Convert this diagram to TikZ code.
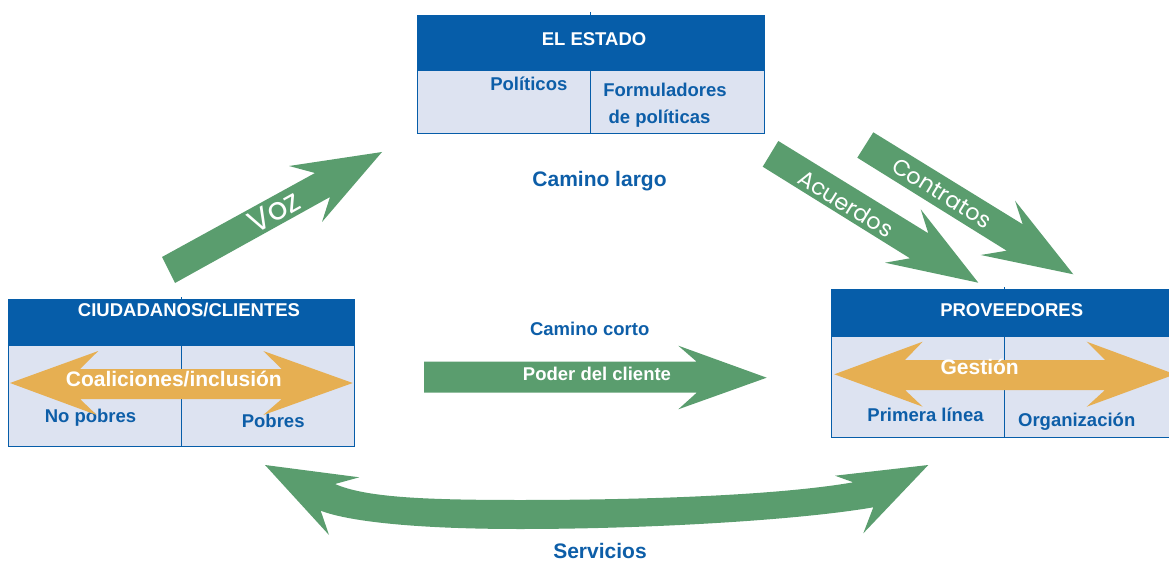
\documentclass[tikz,border=0pt]{standalone}
\usepackage{fontspec}
\setmainfont{Liberation Sans}
\newfontfamily\geo{Poppins}
\definecolor{hblue}{HTML}{065DA9}
\definecolor{tblue}{HTML}{0D5EA8}
\definecolor{cellbg}{HTML}{DDE3F1}
\definecolor{agreen}{HTML}{5A9D6E}
\definecolor{aorange}{HTML}{E6AF52}
\begin{document}
\begin{tikzpicture}[x=1pt,y=-1pt,
  hdr/.style={fill=hblue,draw=hblue,line width=0.8pt},
  cell/.style={fill=cellbg,draw=hblue,line width=0.8pt},
  divline/.style={draw=hblue,line width=0.8pt},
  ttl/.style={text=white,font=\fontsize{18.5}{20}\selectfont\bfseries,anchor=base,inner sep=0pt},
  lbl/.style={text=tblue,font=\fontsize{18.5}{20}\selectfont\bfseries,anchor=base,inner sep=0pt},
  biglbl/.style={text=tblue,font=\fontsize{21}{22}\selectfont\bfseries,anchor=base,inner sep=0pt},
  wlbl/.style={text=white,font=\fontsize{18.5}{20}\selectfont\bfseries,anchor=base,inner sep=0pt},
  owlbl/.style={text=white,font=\fontsize{21}{22}\selectfont\bfseries,anchor=base,inner sep=0pt},
  rlbl/.style={text=white,font=\geo\fontsize{22.5}{24}\selectfont,inner sep=0pt,anchor=center},
  garrow/.style={fill=agreen},
  oarrow/.style={fill=aorange}]
\useasboundingbox (0,0) rectangle (1169,561);
\clip (0,0) rectangle (1169,561);

% ---- EL ESTADO
\fill[cellbg] (417.3,70) rectangle (764.3,133.3);
\draw[divline] (590.7,12) -- (590.7,133.3);
\draw[hdr] (417.3,15) rectangle (764.3,70);
\draw[divline] (417.3,15) rectangle (764.3,133.3);
\node[ttl] (estado) at (594,46) {EL ESTADO};
\node[lbl] (politicos) at (528.8,91) {Políticos};
\node[lbl] (formul) at (665,96.5) {Formuladores};
\node[lbl] (depol) at (659.5,123.3) {de políticas};

% ---- CIUDADANOS
\fill[cellbg] (8.3,345.7) rectangle (354.3,446.7);
\draw[divline] (181,297) -- (181,446.7);
\draw[hdr] (8.3,299.3) rectangle (354.3,345.7);
\draw[divline] (8.3,299.3) rectangle (354.3,446.7);
\node[ttl] (ciud) at (189,316) {CIUDADANOS/CLIENTES};
\node[lbl] (nopob) at (90.5,422.7) {No pobres};
\node[lbl] (pob) at (273.2,427.3) {Pobres};
\fill[oarrow] (10,383) -- (98.3,351) -- (80,369) -- (281.7,369) -- (263.3,351)
  -- (352.7,383) -- (263.3,415) -- (281.7,399) -- (80,399) -- (96.7,415) -- cycle;
\node[owlbl] (coal) at (173.8,386.7) {Coaliciones/inclusión};

% ---- PROVEEDORES
\fill[cellbg] (831.7,336.7) rectangle (1175,437.7);
\draw[divline] (1004.3,287) -- (1004.3,437.7);
\draw[hdr] (831.7,289.3) rectangle (1175,336.7);
\draw[divline] (831.7,289.3) rectangle (1175,437.7);
\node[ttl] (prov) at (1011.7,316) {PROVEEDORES};
\node[lbl] (prim) at (925.5,421.7) {Primera línea};
\node[lbl] (org) at (1076.7,426.7) {Organización};
\fill[oarrow] (834.3,374.3) -- (922.7,341.7) -- (905,360) -- (1105,360) -- (1086.7,341.7)
  -- (1175,374.3) -- (1086.7,406.7) -- (1105,390) -- (905,390) -- (922.7,406.7) -- cycle;
\node[owlbl] (gest) at (979.7,374.3) {Gestión};

% ---- Voz
\fill[garrow] (162,257) -- (315,173) -- (289,166) -- (382,152) -- (322,222)
  -- (330,197) -- (175,283) -- cycle;
\node[rlbl,rotate=28.9,font=\geo\fontsize{31}{32}\selectfont] (voz) at (274,211.5) {Voz};

% ---- Acuerdos
\fill[garrow] (778.3,141) -- (928.3,233.3) -- (920.7,209.3) -- (978.3,282.7)
  -- (885,262.7) -- (910,258.3) -- (762.7,166.7) -- cycle;
\node[rlbl,rotate=-31.8] (acu) at (846,203.5) {Acuerdos};

% ---- Contratos
\fill[garrow] (873.3,132.3) -- (1022.7,224.3) -- (1015,200.7) -- (1073.3,274.3)
  -- (980.7,255) -- (1006.7,250.7) -- (857.3,157.7) -- cycle;
\node[rlbl,rotate=-31.8] (con) at (942,193) {Contratos};

% ---- Camino largo / corto
\node[biglbl] (clargo) at (599.5,186.5) {Camino largo};
\node[lbl] (ccorto) at (589.7,335) {Camino corto};
\fill[garrow] (424,361.7) -- (696.7,361.7) -- (678.3,345.7) -- (766.7,377.7)
  -- (678.3,409.3) -- (696.7,392.7) -- (424,392.7) -- cycle;
\node[wlbl] (poder) at (597,380) {Poder del cliente};

% ---- Servicios
\fill[garrow] (265,465) -- (359.3,477.3) -- (335,484)
  .. controls (365,497) and (420,500) .. (520,500)
  .. controls (650,500) and (780,495) .. (853.3,482.3)
  -- (835,475.7) -- (928.3,465) -- (863.3,533.3) -- (873.3,507.3)
  .. controls (800,520) and (650,529) .. (520,529)
  .. controls (420,529) and (350,522) .. (320.7,510.7)
  -- (329,535) -- cycle;
\node[biglbl] (serv) at (600,558.3) {Servicios};
\end{tikzpicture}
\end{document}
